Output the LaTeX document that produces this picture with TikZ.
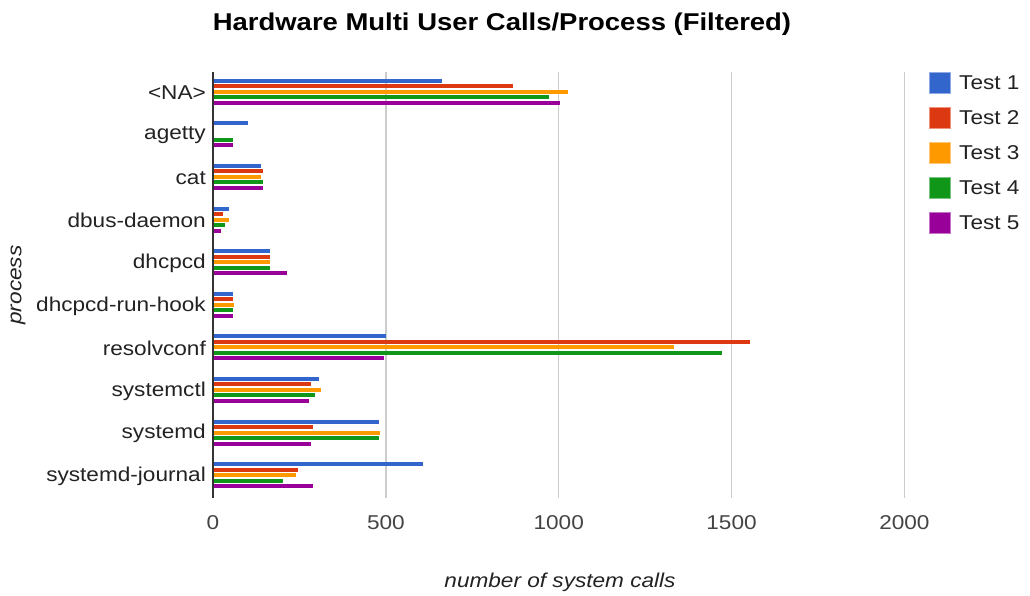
\documentclass[tikz,border=0pt]{standalone}
\usepackage{fontspec}
\setmainfont{Liberation Sans}
\usepackage{graphicx}
\definecolor{bar0}{HTML}{3366CC}
\definecolor{bar1}{HTML}{DC3912}
\definecolor{bar2}{HTML}{FF9900}
\definecolor{bar3}{HTML}{109618}
\definecolor{bar4}{HTML}{990099}
\definecolor{gridc}{HTML}{CCCCCC}
\definecolor{axisc}{HTML}{333333}
\definecolor{textc}{HTML}{222222}
\definecolor{tickc}{HTML}{444444}
\newcommand{\widetxt}[1]{\scalebox{1.13}[1]{#1}}
\tikzset{
  gridline/.style={draw=gridc, line width=1.5pt},
  axisline/.style={draw=axisc, line width=1.4pt},
  catlabel/.style={anchor=east, inner sep=0pt, text=textc, font=\fontsize{20}{24}\selectfont},
  ticklabel/.style={anchor=center, inner sep=0pt, text=tickc, font=\fontsize{20}{24}\selectfont},
  axtitle/.style={inner sep=0pt, text=textc, font=\fontsize{20}{24}\selectfont\itshape},
  legsq/.style={minimum size=21pt, inner sep=0pt, line width=0.8pt},
  legtext/.style={anchor=west, inner sep=0pt, text=textc, font=\fontsize{20}{24}\selectfont},
}
\begin{document}
\begin{tikzpicture}[x=1pt,y=-1pt]
\useasboundingbox (0,0) rectangle (1030,595);
% title
\node[inner sep=0pt, font=\fontsize{24.3}{28}\selectfont\bfseries] (title) at (502,24) {\widetxt{Hardware Multi User Calls/Process (Filtered)}};
% gridlines and ticks
\node[ticklabel] (t0) at (213,523) {\widetxt{0}};
\foreach \g in {500,1000,1500,2000} {
  \draw[gridline] ({213+\g*0.3457},72) -- ({213+\g*0.3457},498);
  \node[ticklabel] (t\g) at ({213+\g*0.3457},523) {\widetxt{\g}};
}
% bars
\foreach \lbl/\vals [count=\i from 0] in {
  {<NA>}/{663,869,1026,971,1004},
  agetty/{100,0,0,57,57},
  cat/{138,144,138,144,144},
  dbus-daemon/{47,30,46,36,24},
  dhcpcd/{166,165,165,165,214},
  dhcpcd-run-hook/{57,57,62,57,57},
  resolvconf/{500,1554,1334,1473,495},
  systemctl/{306,284,312,295,279},
  systemd/{479,290,484,479,284},
  systemd-journal/{608,247,241,203,290}} {
  \pgfmathsetmacro{\gtop}{72+42.6*\i}
  \node[catlabel] (lab\i) at (206,{\gtop+21}) {\widetxt{\lbl}};
  \foreach \v [count=\j from 0] in \vals {
    \ifnum\v>0
      \pgfmathsetmacro{\yc}{\gtop+8.7+5.5*\j}
      \fill[bar\j] (213,{\yc-2}) rectangle ({213+\v*0.3457},{\yc+2});
    \fi
  }
}
% axis
\draw[axisline] (213,72) -- (213,498);
% axis titles
\node[axtitle] (xt) at (560,582) {\widetxt{number of system calls}};
\node[axtitle, rotate=90] (yt) at (18,285) {\widetxt{process}};
% legend
\foreach \k in {0,...,4} {
  \pgfmathtruncatemacro{\n}{\k+1}
  \node[legsq, fill=bar\k, draw=bar\k!55!white] (sq\k) at (939.5,{82.5+35*\k}) {};
  \node[legtext] (lt\k) at (959,{82.5+35*\k}) {\widetxt{Test \n}};
}
\end{tikzpicture}
\end{document}
